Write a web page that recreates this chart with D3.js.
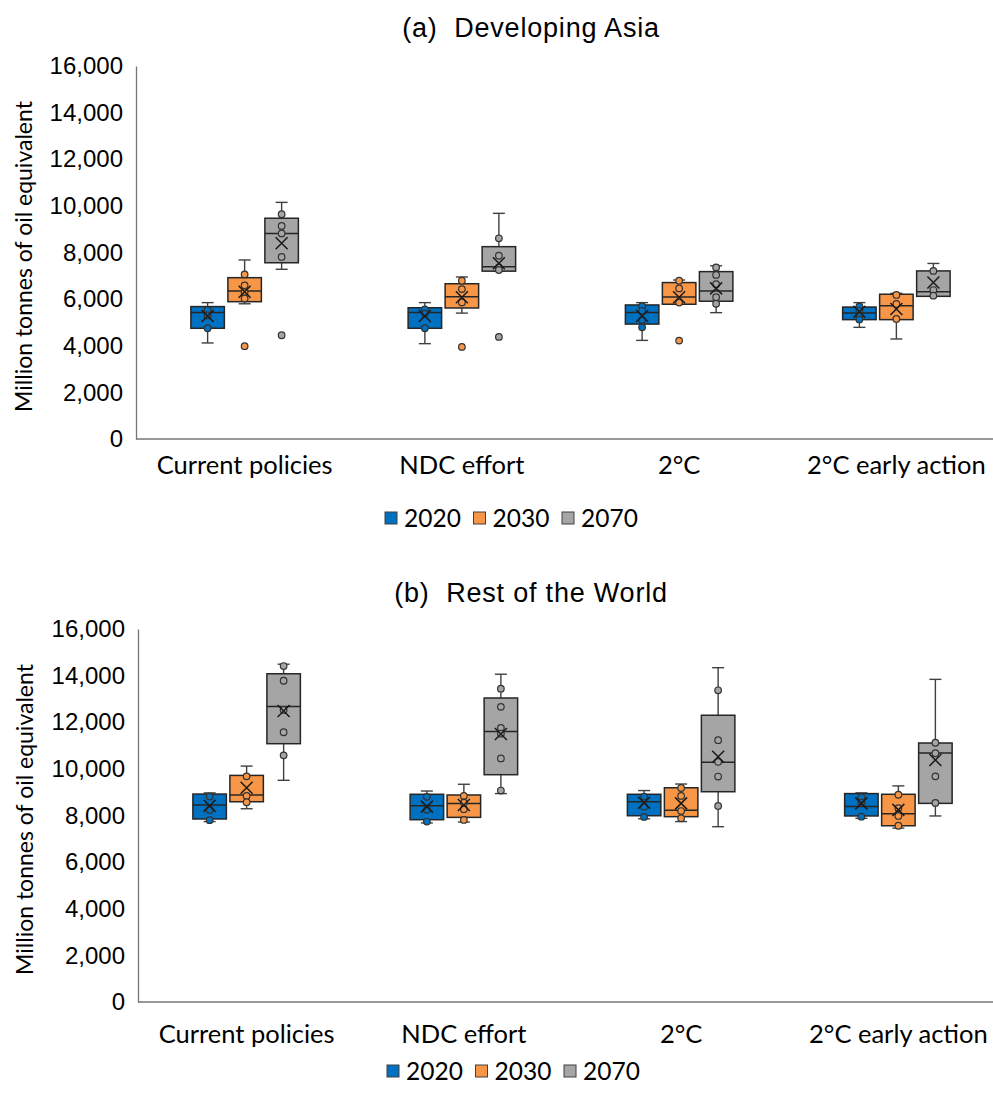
<!DOCTYPE html>
<html lang="en">
<head>
  <meta charset="UTF-8">
  <title>Primary energy demand box plots</title>
  <script src="https://d3js.org/d3.v7.min.js"></script>
  <style>
    body { margin: 0; background: #fff; }
    svg { font-family: Lato, "Noto Sans", sans-serif; }
    .tick text { font-size: 24px; fill: #000; }
    .cat { font-size: 25.5px; fill: #000; }
    .ytitle { font-size: 23px; fill: #000; }
    .ptitle { font-family: "Liberation Sans", Arial, sans-serif; font-size: 27px; letter-spacing: 0.8px; }
    .legend text { font-size: 24.5px; }
  </style>
</head>
<body>
  <svg width="993" height="1095"></svg>

  <script>
    // scenario names and years
    const categories = ["Current policies", "NDC effort", "2°C", "2°C early action"];
    const years = ["2020", "2030", "2070"];
    const colors = ["#0070C0", "#F79646", "#A5A5A5"];
    const yTicks = [0, 2000, 4000, 6000, 8000, 10000, 12000, 14000, 16000];

    // box stats: [scenario, year, min, q1, median, q3, max, mean]
    const asiaBoxes = [
      [0, 0, 4120, 4750, 5430, 5680, 5850, 5280],
      [0, 1, 5800, 5890, 6350, 6920, 7680, 6320],
      [0, 2, 7280, 7560, 8820, 9470, 10150, 8400],
      [1, 0, 4090, 4750, 5430, 5630, 5850, 5280],
      [1, 1, 5400, 5620, 6100, 6660, 6950, 6080],
      [1, 2, 7200, 7200, 7390, 8250, 9680, 7540],
      [2, 0, 4230, 4930, 5430, 5750, 5850, 5280],
      [2, 1, 5780, 5780, 6090, 6710, 6820, 6080],
      [2, 2, 5420, 5910, 6350, 7180, 7430, 6460],
      [3, 0, 4790, 5120, 5400, 5660, 5850, 5460],
      [3, 1, 4290, 5120, 5720, 6210, 6250, 5580],
      [3, 2, 6120, 6120, 6320, 7210, 7530, 6710]
    ];
    // individual points (inner points and outliers), same order as the boxes
    const asiaPoints = [
      [5530, 5300, 4750],
      [7060, 6590, 6300, 6030, 3980],
      [9640, 9140, 8820, 7810, 4450],
      [5560, 5380, 4750],
      [6790, 6430, 5860, 3950],
      [8610, 7860, 7360, 7250, 4380],
      [5700, 5500, 5100, 4790],
      [6790, 6460, 5850, 4220],
      [7360, 7040, 6640, 6080, 5800],
      [5690, 5500, 5280, 5130],
      [6180, 5790, 5150],
      [7210, 6390, 6150]
    ];

    const rowBoxes = [
      [0, 0, 7740, 7850, 8450, 8920, 8970, 8420],
      [0, 1, 8290, 8590, 8880, 9720, 10120, 9190],
      [0, 2, 9510, 11080, 12680, 14080, 14490, 12480],
      [1, 0, 7680, 7820, 8420, 8910, 9050, 8380],
      [1, 1, 7720, 7920, 8520, 8880, 9340, 8450],
      [1, 2, 8940, 9750, 11600, 13040, 14060, 11500],
      [2, 0, 7860, 7990, 8590, 8910, 9070, 8550],
      [2, 1, 7740, 7950, 8220, 9190, 9350, 8520],
      [2, 2, 7520, 9020, 10280, 12300, 14340, 10520],
      [3, 0, 7880, 7980, 8390, 8940, 8970, 8520],
      [3, 1, 7460, 7560, 8070, 8910, 9270, 8240],
      [3, 2, 7980, 8520, 10680, 11110, 13840, 10380]
    ];
    const rowPoints = [
      [8810, 8240, 7800],
      [9680, 8840, 8570],
      [14410, 13780, 12530, 11570, 10580],
      [8800, 8250, 7740],
      [8840, 8550, 8270, 7810],
      [13440, 12660, 11760, 11510, 10450, 9070],
      [8810, 8380, 7940],
      [9180, 8840, 8190, 7880],
      [13370, 11230, 10300, 9670, 8410],
      [8780, 8550, 7950],
      [8890, 8310, 7980, 7560],
      [11120, 10670, 9680, 8540]
    ];

    const svg = d3.select("svg");

    function drawPanel(title, boxes, points, p) {
      const g = svg.append("g");

      const y = d3.scaleLinear().domain([0, 16000]).range([p.bottom, p.top]);
      const x0 = d3.scaleBand().domain(categories).range([p.left, p.left + 869]);
      const x1 = d3.scaleBand().domain(years).range([0, 107.5]).paddingInner(0.095);
      const off = (x0.bandwidth() - 107.5) / 2;
      const bw = x1.bandwidth();

      // title
      g.append("text")
        .attr("class", "ptitle")
        .attr("x", 531).attr("y", p.titleY)
        .attr("text-anchor", "middle")
        .attr("xml:space", "preserve")
        .text(title);

      // axes: plain lines with labels, no ticks
      const yAxis = g.append("g")
        .attr("transform", `translate(${p.left},0)`)
        .call(d3.axisLeft(y).tickValues(yTicks).tickSize(0).tickPadding(13).tickFormat(d3.format(",")));
      yAxis.select(".domain").attr("stroke", "#767676").attr("stroke-width", 1.3);

      g.append("line")
        .attr("x1", p.left).attr("x2", 993)
        .attr("y1", p.bottom).attr("y2", p.bottom)
        .attr("stroke", "#767676").attr("stroke-width", 1.3);

      g.append("text")
        .attr("class", "ytitle")
        .attr("transform", `translate(${p.yTitleX},${(p.top + p.bottom) / 2 + 4}) rotate(-90)`)
        .attr("text-anchor", "middle")
        .attr("dy", "0.35em")
        .text("Million tonnes of oil equivalent");

      g.selectAll(".cat")
        .data(categories)
        .join("text")
          .attr("class", "cat")
          .attr("x", d => x0(d) + x0.bandwidth() / 2)
          .attr("y", p.catY)
          .attr("text-anchor", "middle")
          .text(d => d);

      // boxes
      const bx = d => x0(categories[d[0]]) + off + x1(years[d[1]]);
      const box = g.selectAll(".box")
        .data(boxes)
        .join("g")
          .attr("class", "box");

      box.append("line")
        .attr("x1", d => bx(d) + bw / 2).attr("x2", d => bx(d) + bw / 2)
        .attr("y1", d => y(d[2])).attr("y2", d => y(d[6]))
        .attr("stroke", "#404040").attr("stroke-width", 1.4);
      box.append("line")
        .attr("x1", d => bx(d) + bw / 2 - 6).attr("x2", d => bx(d) + bw / 2 + 6)
        .attr("y1", d => y(d[6])).attr("y2", d => y(d[6]))
        .attr("stroke", "#404040").attr("stroke-width", 1.4);
      box.append("line")
        .attr("x1", d => bx(d) + bw / 2 - 6).attr("x2", d => bx(d) + bw / 2 + 6)
        .attr("y1", d => y(d[2])).attr("y2", d => y(d[2]))
        .attr("stroke", "#404040").attr("stroke-width", 1.4);

      box.append("rect")
        .attr("x", d => bx(d))
        .attr("width", bw)
        .attr("y", d => y(d[5]))
        .attr("height", d => y(d[3]) - y(d[5]))
        .attr("fill", d => colors[d[1]])
        .attr("stroke", "#262626").attr("stroke-width", 1.5);

      box.append("line")
        .attr("x1", d => bx(d)).attr("x2", d => bx(d) + bw)
        .attr("y1", d => y(d[4])).attr("y2", d => y(d[4]))
        .attr("stroke", "#262626").attr("stroke-width", 1.5);

      // points
      box.each(function(d, i) {
        d3.select(this).selectAll("circle")
          .data(points[i])
          .join("circle")
            .attr("cx", bx(d) + bw / 2)
            .attr("cy", v => y(v))
            .attr("r", 3.3)
            .attr("fill", colors[d[1]])
            .attr("stroke", "#333").attr("stroke-width", 1.2);
      });

      // mean markers
      box.append("path")
        .attr("d", d => {
          const cx = bx(d) + bw / 2, cy = y(d[7]), s = 6;
          return `M${cx - s},${cy - s}L${cx + s},${cy + s}M${cx - s},${cy + s}L${cx + s},${cy - s}`;
        })
        .attr("stroke", "#1a1a1a").attr("stroke-width", 1.5).attr("fill", "none");

      // legend
      const lg = g.append("g").attr("class", "legend")
        .selectAll("g")
        .data(years)
        .join("g")
          .attr("transform", (d, i) => `translate(${p.legendX + i * 88.5},${p.legendY})`);
      lg.append("rect")
        .attr("x", 0).attr("y", -6).attr("width", 12).attr("height", 12)
        .attr("fill", (d, i) => colors[i])
        .attr("stroke", "#404040").attr("stroke-width", 1);
      lg.append("text")
        .attr("x", 19).attr("y", 0).attr("dy", "0.36em")
        .text(d => d);
    }

    drawPanel("(a)  Developing Asia", asiaBoxes, asiaPoints,
      { top: 66, bottom: 439, left: 136, titleY: 37, catY: 474, legendX: 385, legendY: 518, yTitleX: 24 });
    drawPanel("(b)  Rest of the World", rowBoxes, rowPoints,
      { top: 629, bottom: 1002, left: 138, titleY: 602, catY: 1043, legendX: 387, legendY: 1071, yTitleX: 25 });
  </script>
</body>
</html>
